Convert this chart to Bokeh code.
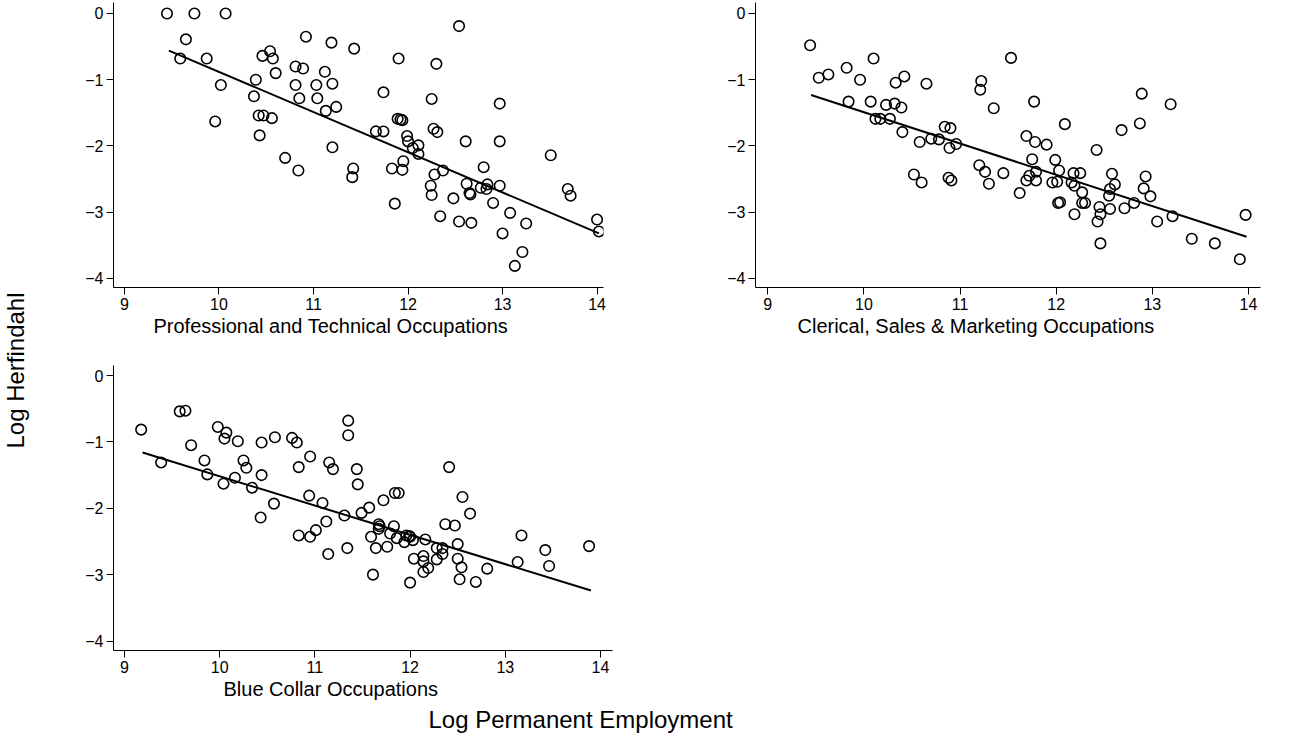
import math
from bokeh.plotting import figure
from bokeh.models import Range1d, FixedTicker, Label, Title
from bokeh.layouts import row, column
from bokeh.embed import file_html
from bokeh.resources import INLINE

FONT = "Liberation Sans"

# ---------------- data ----------------
x_ticks = [9, 10, 11, 12, 13, 14]
y_ticks = [-4, -3, -2, -1, 0]

panel_titles = ["Professional and Technical Occupations",
                "Clerical, Sales & Marketing Occupations",
                "Blue Collar Occupations"]
y_title = "Log Herfindahl"
x_title = "Log Permanent Employment"

prof_x = [9.45, 9.74, 10.07, 9.65, 9.59, 9.87, 10.02, 9.96, 10.39, 10.37,
          10.42, 10.47, 10.56, 10.43, 10.46, 10.54, 10.57, 10.60, 10.81, 10.89,
          10.81, 10.85, 10.92, 10.70, 10.84, 11.03, 11.04, 11.12, 11.13, 11.19,
          11.20, 11.24, 11.20, 11.43, 11.42, 11.41, 11.74, 11.66, 11.74, 11.83,
          11.86, 11.90, 11.89, 11.92, 11.94, 11.99, 12.00, 12.05, 12.11, 12.11,
          11.95, 11.94, 12.25, 12.30, 12.54, 12.27, 12.31, 12.37, 12.28, 12.24,
          12.25, 12.34, 12.48, 12.54, 12.61, 12.62, 12.65, 12.66, 12.67, 12.77,
          12.80, 12.84, 12.83, 12.90, 12.97, 12.97, 12.97, 13.00, 13.08, 13.21,
          13.13, 13.25, 13.51, 13.69, 13.72, 14.00, 14.02]
prof_y = [0.0, 0.0, 0.0, -0.39, -0.68, -0.68, -1.08, -1.63, -1.00, -1.25,
          -1.54, -1.54, -1.58, -1.84, -0.64, -0.57, -0.68, -0.90, -0.80, -0.83,
          -1.08, -1.28, -0.35, -2.18, -2.37, -1.08, -1.28, -0.88, -1.47, -0.44,
          -1.06, -1.41, -2.02, -0.53, -2.34, -2.47, -1.19, -1.78, -1.78, -2.34,
          -2.87, -0.68, -1.59, -1.60, -1.61, -1.85, -1.93, -2.03, -1.99, -2.12,
          -2.23, -2.36, -1.29, -0.76, -0.19, -1.74, -1.79, -2.37, -2.43, -2.60,
          -2.74, -3.06, -2.79, -3.14, -1.93, -2.57, -2.71, -2.73, -3.16, -2.63,
          -2.32, -2.58, -2.65, -2.86, -1.36, -1.93, -2.60, -3.32, -3.01, -3.60,
          -3.81, -3.17, -2.14, -2.65, -2.75, -3.11, -3.29]
prof_fit_x = [9.47, 14.02]
prof_fit_y = [-0.56, -3.32]

cler_x = [9.44, 9.53, 9.63, 9.82, 9.84, 9.96, 10.10, 10.07, 10.12, 10.17,
          10.23, 10.27, 10.32, 10.33, 10.39, 10.42, 10.40, 10.65, 10.52, 10.60,
          10.58, 10.70, 10.78, 10.84, 10.90, 10.89, 10.96, 10.88, 10.91, 11.20,
          11.26, 11.30, 11.22, 11.21, 11.35, 11.45, 11.53, 11.62, 11.69, 11.77,
          11.78, 11.75, 11.72, 11.69, 11.79, 11.79, 11.90, 11.99, 12.03, 11.96,
          12.01, 12.02, 12.04, 12.09, 12.18, 12.25, 12.16, 12.19, 12.27, 12.27,
          12.30, 12.19, 12.42, 12.45, 12.46, 12.43, 12.46, 12.55, 12.56, 12.58,
          12.61, 12.56, 12.68, 12.71, 12.81, 12.87, 12.89, 12.91, 12.93, 12.98,
          13.05, 13.19, 13.21, 13.41, 13.65, 13.91, 13.97]
cler_y = [-0.48, -0.97, -0.92, -0.82, -1.33, -1.00, -0.68, -1.33, -1.59, -1.59,
          -1.38, -1.59, -1.36, -1.045, -1.42, -0.95, -1.79, -1.06, -2.43, -2.55,
          -1.94, -1.89, -1.90, -1.71, -1.73, -2.03, -1.97, -2.48, -2.52, -2.29,
          -2.39, -2.57, -1.02, -1.15, -1.43, -2.41, -0.67, -2.71, -1.85, -1.33,
          -1.94, -2.20, -2.45, -2.52, -2.52, -2.39, -1.98, -2.21, -2.37, -2.55,
          -2.54, -2.86, -2.85, -1.67, -2.41, -2.41, -2.55, -2.60, -2.70, -2.86,
          -2.86, -3.03, -2.06, -2.92, -3.03, -3.14, -3.47, -2.75, -2.65, -2.42,
          -2.58, -2.95, -1.76, -2.94, -2.86, -1.66, -1.21, -2.64, -2.46, -2.76,
          -3.14, -1.37, -3.06, -3.40, -3.47, -3.71, -3.04]
cler_fit_x = [9.45, 13.98]
cler_fit_y = [-1.23, -3.37]

blue_x = [9.175, 9.385, 9.58, 9.64, 9.70, 9.84, 9.87, 9.98, 10.07, 10.05,
          10.04, 10.19, 10.16, 10.25, 10.28, 10.34, 10.44, 10.44, 10.43, 10.57,
          10.58, 10.76, 10.81, 10.83, 10.83, 10.95, 10.95, 10.94, 11.01, 11.08,
          11.12, 11.14, 11.15, 11.19, 11.31, 11.34, 11.35, 11.35, 11.44, 11.45,
          11.49, 11.57, 11.59, 11.61, 11.64, 11.67, 11.68, 11.67, 11.72, 11.76,
          11.79, 11.83, 11.84, 11.88, 11.86, 11.94, 11.96, 11.99, 12.00, 12.03,
          12.00, 12.04, 12.14, 12.14, 12.16, 12.14, 12.19, 12.28, 12.28, 12.34,
          12.34, 12.37, 12.41, 12.47, 12.50, 12.50, 12.54, 12.52, 12.55, 12.63,
          12.69, 12.81, 13.13, 13.17, 13.42, 13.46, 13.88]
blue_y = [-0.815, -1.31, -0.54, -0.53, -1.05, -1.28, -1.49, -0.775, -0.86, -0.95,
          -1.63, -0.99, -1.54, -1.28, -1.39, -1.69, -1.01, -1.50, -2.14, -1.93,
          -0.93, -0.94, -1.01, -1.38, -2.41, -2.43, -1.22, -1.81, -2.33, -1.92,
          -2.20, -2.69, -1.31, -1.41, -2.11, -2.60, -0.68, -0.90, -1.41, -1.64,
          -2.07, -1.99, -2.43, -3.00, -2.60, -2.24, -2.27, -2.31, -1.88, -2.58,
          -2.38, -2.27, -1.77, -1.77, -2.45, -2.51, -2.41, -2.42, -2.43, -2.48,
          -3.12, -2.76, -2.72, -2.80, -2.47, -2.96, -2.90, -2.60, -2.77, -2.60,
          -2.69, -2.24, -1.38, -2.26, -2.54, -2.76, -2.89, -3.07, -1.83, -2.08,
          -3.11, -2.91, -2.81, -2.41, -2.63, -2.87, -2.57]
blue_fit_x = [9.19, 13.90]
blue_fit_y = [-1.16, -3.24]


# ---------------- helpers ----------------
def panel(xs, ys, fx, fy, title, x_range, y_range, w, h, bl, br, bt, bb,
          title_offset):
    p = figure(width=w, height=h, x_range=Range1d(*x_range),
               y_range=Range1d(*y_range), output_backend="svg",
               toolbar_location=None, min_border_left=bl,
               min_border_right=br, min_border_top=bt, min_border_bottom=bb,
               background_fill_color="white", border_fill_color="white")
    p.outline_line_color = None
    p.xgrid.visible = False
    p.ygrid.visible = False
    p.xaxis.ticker = FixedTicker(ticks=x_ticks)
    p.yaxis.ticker = FixedTicker(ticks=y_ticks)
    for ax in [p.xaxis[0], p.yaxis[0]]:
        ax.axis_line_color = "black"
        ax.axis_line_width = 1
        ax.major_tick_line_color = "black"
        ax.major_tick_out = 7
        ax.major_tick_in = 0
        ax.minor_tick_out = 0
        ax.minor_tick_in = 0
        ax.major_label_text_font = FONT
        ax.major_label_text_font_size = "16px"
        ax.major_label_text_color = "black"
        ax.major_label_standoff = 3
    p.scatter(xs, ys, marker="circle", size=10.5, fill_color=None,
              line_color="black", line_width=1.6)
    p.line(fx, fy, line_color="black", line_width=2)
    p.add_layout(Title(text=title, align="left", offset=title_offset,
                       text_font=FONT, text_font_size="20px",
                       text_font_style="normal", text_color="black",
                       standoff=1), "below")
    return p


# panel 1: frame x 113..603, y 2..287
p1 = panel(prof_x, prof_y, prof_fit_x, prof_fit_y, panel_titles[0],
           (8.884, 14.068), (-4.136, 0.166), 657, 355, 65, 102, 2, 68, 40)
# panel 2: frame x 755..1260
p2 = panel(cler_x, cler_y, cler_fit_x, cler_fit_y, panel_titles[1],
           (8.872, 14.125), (-4.136, 0.166), 565, 355, 50, 10, 2, 68, 42)
# panel 3: frame x 113..612, y 365..650 ; wide canvas hosts the common x title
p3 = panel(blue_x, blue_y, blue_fit_x, blue_fit_y, panel_titles[2],
           (8.8845, 14.126), (-4.143, 0.151), 1222, 381, 65, 658, 10, 86, 110)
p3.add_layout(Title(text=x_title, align="left", offset=315, text_font=FONT,
                    text_font_size="24px", text_font_style="normal",
                    text_color="black", standoff=6), "below")

# left strip with the common y title
strip = figure(width=48, height=736, x_range=Range1d(0, 48),
               y_range=Range1d(0, 736), output_backend="svg",
               toolbar_location=None, min_border=0,
               border_fill_color="white", background_fill_color="white")
strip.outline_line_color = None
strip.axis.visible = False
strip.grid.visible = False
strip.add_layout(Label(x=15, y=736 - 370, text=y_title, text_font=FONT,
                       text_font_size="24px", text_color="black",
                       angle=math.pi / 2, text_align="center",
                       text_baseline="middle"))

layout = row(strip, column(row(p1, p2), p3))

open("out.html", "w").write(file_html(layout, INLINE))
